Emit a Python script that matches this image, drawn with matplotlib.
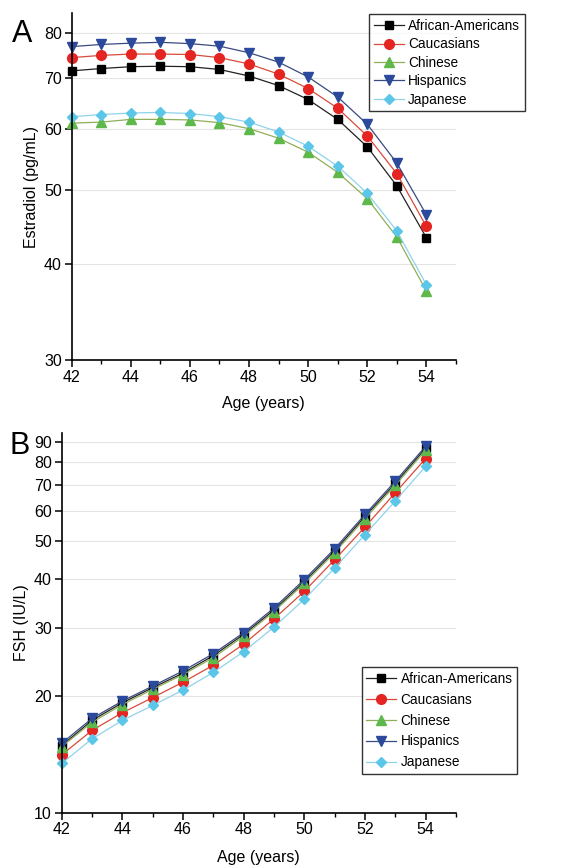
import matplotlib
matplotlib.use("Agg")
import matplotlib.pyplot as plt
from matplotlib.ticker import FixedLocator, NullFormatter, MultipleLocator, NullLocator

plt.rcParams['font.family'] = ['Liberation Sans', 'DejaVu Sans']

ages = [42, 43, 44, 45, 46, 47, 48, 49, 50, 51, 52, 53, 54]
groups = ["African-Americans", "Caucasians", "Chinese", "Hispanics", "Japanese"]

# Panel A: Estradiol (pg/mL)
e2_african = [71.5, 72.0, 72.4, 72.5, 72.4, 71.8, 70.4, 68.4, 65.6, 61.8, 56.9, 50.6, 43.3]
e2_caucasian = [74.4, 74.9, 75.2, 75.2, 75.1, 74.4, 73.0, 70.8, 67.8, 63.9, 58.8, 52.5, 44.8]
e2_chinese = [61.1, 61.3, 61.8, 61.8, 61.7, 61.2, 60.1, 58.4, 56.0, 52.7, 48.7, 43.4, 36.9]
e2_hispanic = [76.9, 77.4, 77.7, 77.9, 77.6, 77.0, 75.5, 73.4, 70.2, 66.1, 60.9, 54.2, 46.4]
e2_japanese = [62.3, 62.7, 63.0, 63.1, 62.9, 62.3, 61.3, 59.5, 57.0, 53.7, 49.5, 44.2, 37.6]

# Panel B: FSH (IU/L)
fsh_african = [14.9, 17.3, 19.2, 21.0, 22.9, 25.4, 28.8, 33.3, 39.4, 47.3, 58.0, 70.6, 87.0]
fsh_caucasian = [14.1, 16.3, 18.1, 19.8, 21.7, 24.0, 27.2, 31.6, 37.2, 44.9, 54.5, 66.8, 81.8]
fsh_chinese = [14.8, 17.1, 19.0, 20.8, 22.7, 25.1, 28.5, 33.0, 39.0, 46.8, 57.3, 69.8, 86.0]
fsh_hispanic = [15.1, 17.5, 19.4, 21.2, 23.2, 25.7, 29.1, 33.7, 39.9, 47.9, 58.7, 71.5, 88.0]
fsh_japanese = [13.4, 15.5, 17.3, 18.9, 20.7, 23.0, 26.0, 30.1, 35.5, 42.7, 52.1, 63.6, 78.1]

e2_ticks = [30, 40, 50, 60, 70, 80]
fsh_ticks = [10, 20, 30, 40, 50, 60, 70, 80, 90]
x_ticks = [42, 44, 46, 48, 50, 52, 54]

styles = [
    dict(color="#222222", marker="s", mfc="#000000", mec="#000000"),
    dict(color="#d94a3a", marker="o", mfc="#e52521", mec="#e52521"),
    dict(color="#8fae5a", marker="^", mfc="#5fb84a", mec="#5fb84a"),
    dict(color="#3a4a80", marker="v", mfc="#2b4a9b", mec="#2b4a9b"),
    dict(color="#8fd3ea", marker="D", mfc="#5cc6e8", mec="#5cc6e8"),
]
msizes = [6, 7, 7, 7, 5.5]

fig = plt.figure(figsize=(5.79, 8.68), dpi=100)
axA = fig.add_axes([0.1238, 0.5853, 0.6637, 0.3994])
axB = fig.add_axes([0.1066, 0.0637, 0.6810, 0.4371])

def style_ax(ax, yt, ylim, xlabelpad):
    ax.set_yscale('log')
    ax.set_xlim(42, 55)
    ax.set_ylim(*ylim)
    ax.spines['top'].set_visible(False)
    ax.spines['right'].set_visible(False)
    ax.spines['left'].set_linewidth(1.2)
    ax.spines['bottom'].set_linewidth(1.2)
    ax.yaxis.set_major_locator(FixedLocator(yt))
    ax.yaxis.set_minor_locator(NullLocator())
    ax.yaxis.set_minor_formatter(NullFormatter())
    ax.set_yticklabels([str(v) for v in yt])
    ax.xaxis.set_major_locator(FixedLocator(x_ticks))
    ax.xaxis.set_minor_locator(MultipleLocator(1))
    ax.tick_params(axis='both', which='major', direction='out', length=5, width=1.1, labelsize=11.5, pad=2)
    ax.tick_params(axis='x', which='minor', direction='out', length=3, width=1.0)
    for v in yt[1:]:
        ax.axhline(v, color="#e4e4e4", lw=0.8, zorder=0)
    ax.set_xlabel("Age (years)", fontsize=11.5, labelpad=xlabelpad)

seriesA = [e2_african, e2_caucasian, e2_chinese, e2_hispanic, e2_japanese]
seriesB = [fsh_african, fsh_caucasian, fsh_chinese, fsh_hispanic, fsh_japanese]

for name, ys, st, ms in zip(groups, seriesA, styles, msizes):
    axA.plot(ages, ys, label=name, lw=0.9, markersize=ms, clip_on=False, **st)
for name, ys, st, ms in zip(groups, seriesB, styles, msizes):
    axB.plot(ages, ys, label=name, lw=0.9, markersize=ms, clip_on=False, **st)

style_ax(axA, e2_ticks, (30, 85), 8)
style_ax(axB, fsh_ticks, (10, 95), 9)
axA.set_ylabel("Estradiol (pg/mL)", fontsize=11.5, labelpad=4)
axB.set_ylabel("FSH (IU/L)", fontsize=11.5, labelpad=4)

legkw = dict(fontsize=9.8, frameon=True, fancybox=False, edgecolor="#000000",
             handlelength=2.2, handletextpad=0.3, borderpad=0.35,
             borderaxespad=0.0, loc='upper left', bbox_transform=fig.transFigure)
legA = axA.legend(bbox_to_anchor=(0.6373, 0.9835), labelspacing=0.32, **legkw)
legB = axB.legend(bbox_to_anchor=(0.6247, 0.2312), labelspacing=0.5, **legkw)
for leg in (legA, legB):
    leg.get_frame().set_linewidth(1.0)

fig.text(0.02, 0.978, "A", fontsize=22, va='top', ha='left')
fig.text(0.017, 0.503, "B", fontsize=22, va='top', ha='left')

fig.savefig("out.png", dpi=100)
